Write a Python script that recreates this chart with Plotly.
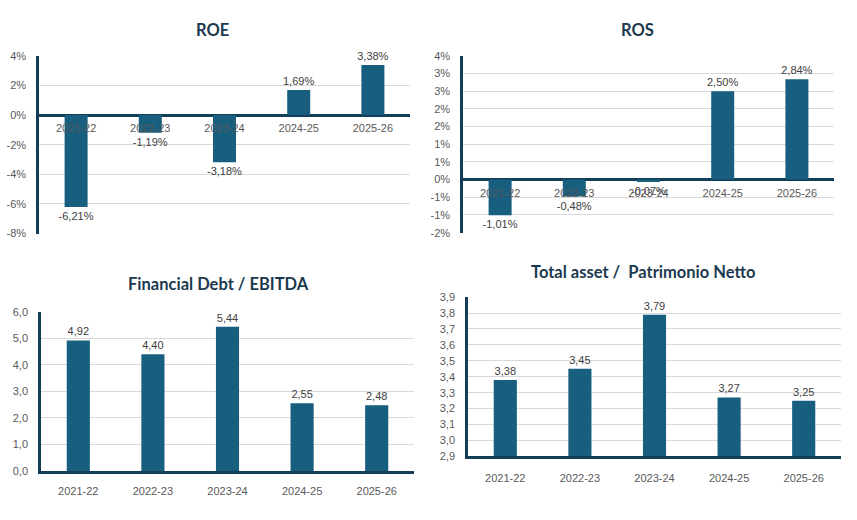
import plotly.graph_objects as go

categories = ["2021-22", "2022-23", "2023-24", "2024-25", "2025-26"]
roe = [-6.21, -1.19, -3.18, 1.69, 3.38]
ros = [-1.01, -0.48, -0.07, 2.50, 2.84]
debt_ebitda = [4.92, 4.40, 5.44, 2.55, 2.48]
asset_pn = [3.38, 3.45, 3.79, 3.27, 3.25]

roe_ticks = [-8, -6, -4, -2, 0, 2, 4]
ros_ticks = [-1.5, -1.0, -0.5, 0, 0.5, 1.0, 1.5, 2.0, 2.5, 3.0, 3.5]
ros_ticktext = ["-2%", "-1%", "-1%", "0%", "1%", "1%", "2%", "2%", "3%", "3%", "4%"]
debt_ticks = [0, 1, 2, 3, 4, 5, 6]
asset_ticks = [2.9, 3.0, 3.1, 3.2, 3.3, 3.4, 3.5, 3.6, 3.7, 3.8, 3.9]

titles = ["ROE", "ROS", "Financial Debt / EBITDA", "Total asset /  Patrimonio Netto"]

BAR = "#175e7f"
AXIS = "#123f57"
GRID = "#d9d9d9"
TICK = "#595959"
LABEL = "#404040"
TITLE = "#1b3a50"
W, H = 857, 520


def pct(v):
    return f"{v:.2f}%".replace(".", ",")


def num(v):
    return f"{v:.2f}".replace(".", ",")


fig = go.Figure()

panels = [
    dict(vals=roe, text=[pct(v) for v in roe], xd=(39, 410), yd=(233, 51), rng=(-8, 4),
         tv=roe_ticks, tt=[f"{t}%" for t in roe_ticks], zero=True, xs=5),
    dict(vals=ros, text=[pct(v) for v in ros], xd=(463, 834), yd=(232, 51), rng=(-1.5, 3.5),
         tv=ros_ticks, tt=ros_ticktext, zero=True, xs=5),
    dict(vals=debt_ebitda, text=[num(v) for v in debt_ebitda], xd=(41, 414), yd=(476, 313), rng=(0, 6),
         tv=debt_ticks, tt=[f"{t:.1f}".replace(".", ",") for t in debt_ticks], zero=False, xs=8),
    dict(vals=asset_pn, text=[num(v) for v in asset_pn], xd=(468, 841), yd=(461, 298), rng=(2.9, 3.9),
         tv=asset_ticks, tt=[f"{t:.1f}".replace(".", ",") for t in asset_ticks], zero=False, xs=10),
]

title_pos = [(212, 25), (637, 25), (218, 285), (643, 272)]

font_fam = "Liberation Sans, Arial, sans-serif"

for i, p in enumerate(panels):
    n = "" if i == 0 else str(i + 1)
    xa = "x" + n
    ya = "y" + n
    fig.add_trace(go.Bar(
        x=categories, y=p["vals"], text=p["text"], textposition="outside",
        constraintext="none",
        textfont=dict(color=LABEL, size=11, family=font_fam),
        marker=dict(color=BAR, line=dict(width=0)), width=0.31,
        xaxis=xa, yaxis=ya, cliponaxis=False, showlegend=False,
    ))
    xdom = [p["xd"][0] / W, p["xd"][1] / W]
    ydom = [1 - p["yd"][0] / H, 1 - p["yd"][1] / H]
    ykey = "yaxis" + n
    xkey = "xaxis" + n
    yaxis = dict(
        domain=ydom, range=list(p["rng"]), tickvals=p["tv"], ticktext=p["tt"],
        showgrid=True, gridcolor=GRID, gridwidth=1,
        showline=True, linecolor=AXIS, linewidth=2.5,
        tickfont=dict(color=TICK, size=11, family=font_fam),
        ticks="", anchor=xa, fixedrange=True, ticklabelstandoff=8,
        zeroline=p["zero"], zerolinecolor=AXIS, zerolinewidth=2.5,
    )
    if p["zero"]:
        zero_frac = ydom[0] + (0 - p["rng"][0]) / (p["rng"][1] - p["rng"][0]) * (ydom[1] - ydom[0])
        xaxis = dict(domain=xdom, anchor="free", position=zero_frac, showline=False,
                     showgrid=False, ticks="", zeroline=False, ticklabelstandoff=p["xs"],
                     tickfont=dict(color=TICK, size=11, family=font_fam), fixedrange=True)
    else:
        xaxis = dict(domain=xdom, anchor=ya, showline=True, linecolor=AXIS, linewidth=2.5,
                     showgrid=False, ticks="", zeroline=False, ticklabelstandoff=p["xs"],
                     tickfont=dict(color=TICK, size=11, family=font_fam), fixedrange=True)
    fig.layout[ykey] = yaxis
    fig.layout[xkey] = xaxis
    tx, ty = title_pos[i]
    fig.add_annotation(
        text=f"<b>{titles[i]}</b>", x=tx / W, y=1 - ty / H, xref="paper", yref="paper",
        showarrow=False, xanchor="center", yanchor="middle",
        font=dict(size=16.5, color=TITLE, family="Lato, Open Sans, sans-serif"),
    )

fig.update_layout(
    width=W, height=H, margin=dict(l=0, r=0, t=0, b=0),
    paper_bgcolor="white", plot_bgcolor="white", bargap=0.69,
)

fig.write_html("out.html")
